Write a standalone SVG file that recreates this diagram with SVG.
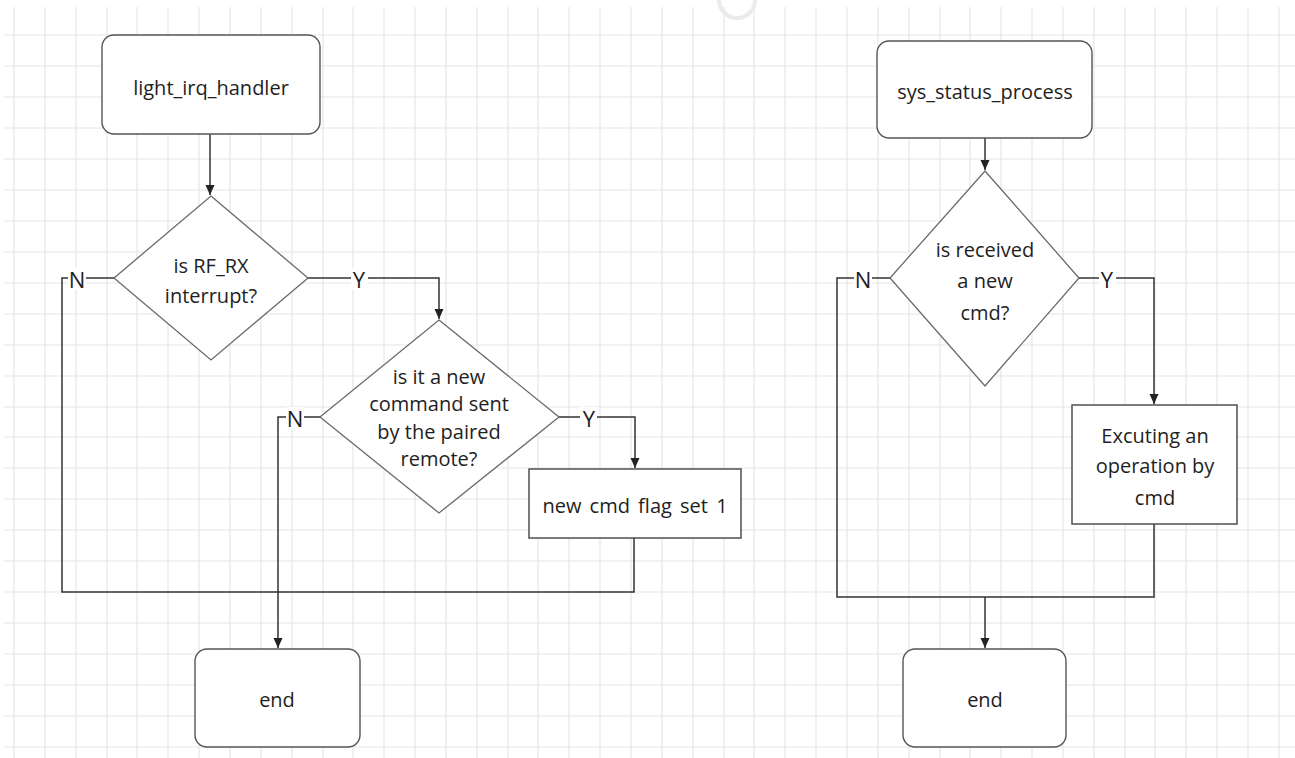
<svg xmlns="http://www.w3.org/2000/svg" width="1295" height="758" viewBox="0 0 1295 758">
<defs>
<style>
.grid{stroke:#e6e6e6;stroke-width:1.2;fill:none}
.term{fill:#fff;stroke:#555;stroke-width:1.4}
.proc{fill:#fff;stroke:#444;stroke-width:1.4}
.dec{fill:#fff;stroke:#6a6a6a;stroke-width:1.3}
.edge{fill:none;stroke:#333;stroke-width:1.5}
text{font-family:"Open Sans","Noto Sans","Liberation Sans",sans-serif;font-size:20px;fill:#1e1e1e;text-anchor:middle;dominant-baseline:central}
.yn{font-size:22px}
.lbl{fill:#fff}
</style>
<marker id="arr" viewBox="0 0 10 10" refX="10" refY="5" markerWidth="10" markerHeight="10" markerUnits="userSpaceOnUse" orient="auto">
<path d="M0,0.5 L10,5 L0,9.5 z" fill="#222"/>
</marker>
</defs>
<rect width="1295" height="758" fill="#fff"/>
<g id="grid">
<path class="grid" d="M14 7V758M45 7V758M76 7V758M107 7V758M137 7V758M168 7V758M199 7V758M230 7V758M261 7V758M292 7V758M323 7V758M353 7V758M384 7V758M415 7V758M446 7V758M477 7V758M508 7V758M538 7V758M569 7V758M600 7V758M631 7V758M662 7V758M693 7V758M724 7V758M754 7V758M785 7V758M816 7V758M847 7V758M878 7V758M909 7V758M940 7V758M970 7V758M1001 7V758M1032 7V758M1063 7V758M1094 7V758M1125 7V758M1155 7V758M1186 7V758M1217 7V758M1248 7V758M1279 7V758"/>
<path class="grid" d="M4 35H1295M4 66H1295M4 97H1295M4 128H1295M4 159H1295M4 190H1295M4 221H1295M4 252H1295M4 283H1295M4 314H1295M4 345H1295M4 376H1295M4 407H1295M4 437H1295M4 468H1295M4 499H1295M4 530H1295M4 561H1295M4 592H1295M4 623H1295M4 654H1295M4 685H1295M4 716H1295M4 747H1295"/>
<path d="M719 0 A18 18 0 0 0 755 0" fill="none" stroke="#ebebeb" stroke-width="4"/>
</g>
<g id="connectors">
<path class="edge" d="M210 134V195" marker-end="url(#arr)"/>
<path class="edge" d="M308 278H439V319" marker-end="url(#arr)"/>
<path class="edge" d="M114 278H62V592H634V538"/>
<path class="edge" d="M320 417H278V648" marker-end="url(#arr)"/>
<path class="edge" d="M559 417H635V468" marker-end="url(#arr)"/>
<path class="edge" d="M985 138V170" marker-end="url(#arr)"/>
<path class="edge" d="M1079 278H1154V404" marker-end="url(#arr)"/>
<path class="edge" d="M890 278H837V597H1154V524"/>
<path class="edge" d="M985 597V648" marker-end="url(#arr)"/>
<rect class="lbl" x="68" y="268" width="18" height="22"/><text class="yn" x="77" y="279">N</text>
<rect class="lbl" x="351" y="268" width="17" height="22"/><text class="yn" x="359" y="279">Y</text>
<rect class="lbl" x="286" y="407" width="18" height="22"/><text class="yn" x="295" y="418">N</text>
<rect class="lbl" x="580" y="407" width="17" height="22"/><text class="yn" x="589" y="418">Y</text>
<rect class="lbl" x="854" y="268" width="18" height="22"/><text class="yn" x="863" y="279">N</text>
<rect class="lbl" x="1099" y="268" width="17" height="22"/><text class="yn" x="1107" y="279">Y</text>
</g>
<g id="n_light_irq_handler">
<rect class="term" x="102" y="35" width="218" height="99" rx="12"/>
<text x="211" y="87">light_irq_handler</text>
</g>
<g id="n_is_rf_rx">
<polygon class="dec" points="211,196 308,278 211,360 114,278"/>
<text x="211" y="265">is RF_RX</text>
<text x="211" y="295">interrupt?</text>
</g>
<g id="n_is_new_command">
<polygon class="dec" points="439,320 559,417 439,513 320,417"/>
<text x="439" y="376">is it a new</text>
<text x="439" y="403">command sent</text>
<text x="439" y="431">by the paired</text>
<text x="439" y="458">remote?</text>
</g>
<g id="n_new_cmd_flag">
<rect class="proc" x="529" y="469" width="212" height="69"/>
<text x="635" y="505" word-spacing="3">new cmd flag set 1</text>
</g>
<g id="n_end_left">
<rect class="term" x="195" y="649" width="165" height="98" rx="12"/>
<text x="277" y="699">end</text>
</g>
<g id="n_sys_status_process">
<rect class="term" x="877" y="41" width="215" height="97" rx="12"/>
<text x="985" y="91">sys_status_process</text>
</g>
<g id="n_is_received">
<polygon class="dec" points="985,171 1079,278 985,386 890,278"/>
<text x="985" y="249">is received</text>
<text x="985" y="280">a new</text>
<text x="985" y="312">cmd?</text>
</g>
<g id="n_executing">
<rect class="proc" x="1072" y="405" width="165" height="119"/>
<text x="1155" y="435">Excuting an</text>
<text x="1155" y="465">operation by</text>
<text x="1155" y="497">cmd</text>
</g>
<g id="n_end_right">
<rect class="term" x="903" y="649" width="163" height="98" rx="12"/>
<text x="985" y="699">end</text>
</g>
</svg>
